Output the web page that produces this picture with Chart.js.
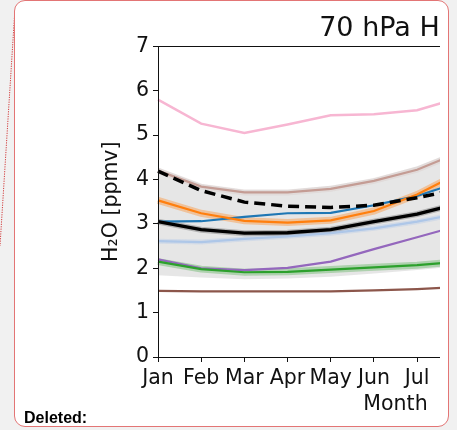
<!DOCTYPE html>
<html>
<head>
<meta charset="utf-8">
<script src="https://cdn.jsdelivr.net/npm/chart.js@4.4.1/dist/chart.umd.min.js"></script>
<style>
  html, body { margin: 0; padding: 0; width: 457px; height: 430px; overflow: hidden; background: #f1f1f1; }
  #leader { position: absolute; left: 0; top: 0; }
  #note {
    position: absolute; left: 14px; top: 0; width: 435px; height: 427px;
    box-sizing: border-box; background: #fff;
    border: 1.5px solid #e37575; border-radius: 11px;
  }
  #plot { position: absolute; left: 0; top: 0; width: 440px; height: 425px; overflow: hidden; }
  #tag {
    position: absolute; left: 24px; top: 410px;
    font: bold 16px/16px "Liberation Sans", Arial, sans-serif; color: #000;
  }
</style>
</head>
<body>
<svg id="leader" width="457" height="430">
  <line x1="14.7" y1="13" x2="0" y2="246" stroke="#d23c3c" stroke-width="1" stroke-dasharray="1.2 1.2"/>
</svg>
<div id="note"></div>
<div id="plot"><canvas id="h2o" width="700" height="430"></canvas></div>
<div id="tag">Deleted:</div>

<script>
const months = ['Jan', 'Feb', 'Mar', 'Apr', 'May', 'Jun', 'Jul', 'Aug', 'Sep', 'Oct', 'Nov', 'Dec'];

// monthly H2O at 70 hPa [ppmv], Jan..Aug
const rangeHigh = [4.27, 3.90, 3.77, 3.77, 3.86, 4.03, 4.30, 4.68];
const rangeLow  = [1.84, 1.79, 1.75, 1.77, 1.81, 1.88, 1.96, 2.05];
const pink      = [5.80, 5.26, 5.05, 5.24, 5.45, 5.47, 5.56, 5.85];
const rosy      = [4.20, 3.84, 3.71, 3.71, 3.79, 3.97, 4.22, 4.62];
const obsMean   = [4.19, 3.75, 3.49, 3.40, 3.37, 3.42, 3.59, 3.79];
const orange    = [3.53, 3.24, 3.07, 3.03, 3.08, 3.29, 3.66, 4.16];
const blue      = [3.05, 3.06, 3.16, 3.24, 3.25, 3.42, 3.63, 3.95];
const modelMean = [3.05, 2.87, 2.79, 2.80, 2.87, 3.05, 3.22, 3.47];
const skyBlue   = [2.61, 2.59, 2.66, 2.72, 2.79, 2.90, 3.05, 3.24];
const purple    = [2.20, 2.00, 1.96, 2.01, 2.15, 2.43, 2.70, 2.97];
const green     = [2.15, 1.98, 1.91, 1.92, 1.97, 2.02, 2.07, 2.15];
const brown     = [1.49, 1.48, 1.48, 1.48, 1.48, 1.50, 1.53, 1.58];

const FONT = 'DejaVu Sans';
const INK = '#111';

function line(data, color, width, order, extra) {
  return Object.assign({
    data: data, borderColor: color, borderWidth: width, order: order,
    pointRadius: 0, tension: 0, fill: false
  }, extra || {});
}

const datasets = [
  // model spread
  line(rangeHigh, 'rgba(0,0,0,0)', 0, 100, { fill: '+1', backgroundColor: 'rgba(120,120,120,0.19)' }),
  line(rangeLow, 'rgba(0,0,0,0)', 0, 100),
  // soft halos under some of the lines
  line(rosy, 'rgba(196,156,148,0.15)', 6, 60),
  line(orange, 'rgba(255,127,14,0.35)', 7, 60),
  line(green, 'rgba(44,160,44,0.30)', 7, 60),
  line(modelMean, 'rgba(0,0,0,0.22)', 6, 60),
  line(skyBlue, 'rgba(174,199,232,0.35)', 5, 60),
  // members
  line(brown, '#8c564b', 2.2, 20),
  line(pink, '#f7b6d2', 2.5, 20),
  line(rosy, '#c49c94', 2.2, 20),
  line(skyBlue, '#aec7e8', 2.2, 20),
  line(green, '#2ca02c', 2.2, 20),
  line(purple, '#9467bd', 2.2, 20),
  line(blue, '#1f77b4', 2.2, 19),
  line(orange, '#ff7f0e', 2.2, 18),
  line(modelMean, '#000', 3.3, 2),
  line(obsMean, '#000', 3.5, 1, { borderDash: [11, 6] })
];

const frame = {
  id: 'frame',
  afterDraw(chart) {
    const { ctx, chartArea: a } = chart;
    ctx.save();
    ctx.strokeStyle = INK;
    ctx.lineWidth = 1;
    ctx.strokeRect(Math.round(a.left) + 0.5, Math.round(a.top) + 0.5,
      Math.round(a.right - a.left), Math.round(a.bottom - a.top));
    ctx.restore();
  }
};

new Chart(document.getElementById('h2o'), {
  type: 'line',
  data: { labels: months, datasets: datasets },
  plugins: [frame],
  options: {
    responsive: false,
    animation: false,
    devicePixelRatio: 1,
    layout: { padding: { left: 99, right: 67, top: 0, bottom: 13 } },
    plugins: {
      legend: { display: false },
      tooltip: { enabled: false },
      title: {
        display: true, text: '70 hPa H₂O', fullSize: false, color: INK,
        font: { family: FONT, size: 27, weight: 'normal' },
        padding: { top: 13, bottom: 1 }
      }
    },
    scales: {
      x: {
        afterFit(s) { s.height = 60; },
        grid: { drawOnChartArea: false, color: INK, tickLength: 5 },
        border: { color: INK },
        ticks: { color: INK, padding: 4, autoSkip: false, maxRotation: 0, minRotation: 0,
                 font: { family: FONT, size: 20.5 } },
        title: { display: true, text: 'Month', color: INK, padding: 0,
                 font: { family: FONT, size: 20.5 } }
      },
      y: {
        min: 0, max: 7,
        afterFit(s) { s.width = 59; },
        grid: { drawOnChartArea: false, color: INK, tickLength: 5 },
        border: { color: INK },
        ticks: { stepSize: 1, color: INK, padding: 4, font: { family: FONT, size: 20.5 } },
        title: { display: true, text: 'H₂O [ppmv]', color: INK, padding: 0,
                 font: { family: FONT, size: 20.5 } }
      }
    }
  }
});
</script>
</body>
</html>
